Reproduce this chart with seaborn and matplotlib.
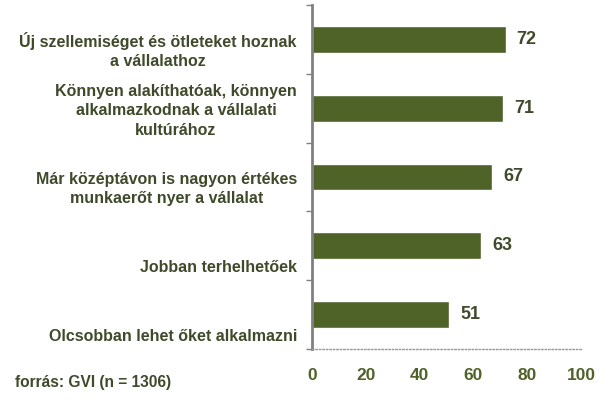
import matplotlib
matplotlib.use("Agg")
import matplotlib.pyplot as plt
import matplotlib.transforms as mtransforms
import seaborn as sns
import pandas as pd

categories = [
    "Új szellemiséget és ötleteket hoznak\na vállalathoz",
    "Könnyen alakíthatóak, könnyen\nalkalmazkodnak a vállalati\nkultúrához",
    "Már középtávon is nagyon értékes\nmunkaerőt nyer a vállalat",
    "Jobban terhelhetőek",
    "Olcsobban lehet őket alkalmazni",
]
values = [72, 71, 67, 63, 51]
xticks = [0, 20, 40, 60, 80, 100]
source = "forrás: GVI (n = 1306)"

sns.set_theme(style="white")
plt.rcParams["font.family"] = ["Liberation Sans", "DejaVu Sans"]

df = pd.DataFrame({"cat": categories, "val": values})

fig = plt.figure(figsize=(6.08, 4.13), dpi=100)
ax = fig.add_axes([0.513, 0.155, 0.4426, 0.833])

bar_color = "#4f6228"
text_color = "#3f4a2a"
sns.barplot(data=df, y="cat", x="val", orient="h", color=bar_color,
            width=0.39, saturation=1, ax=ax)

ax.set_xlim(0, 100)
ax.set_ylim(4.5, -0.5)
ax.set_xlabel("")
ax.set_ylabel("")
ax.set_xticks(xticks)
ax.set_xticklabels([str(t) for t in xticks], fontsize=12.5, fontweight="bold",
                   color="#4f6228")
ax.tick_params(axis="x", length=2, width=0.8, color="#999999", pad=12, direction="out")

# y ticks at category boundaries, no labels
ax.set_yticks([i + 0.5 for i in range(-1, len(categories))])
ax.set_yticklabels([])
ax.tick_params(axis="y", length=4, width=1, color="#808080", direction="out", left=True)

for s in ["top", "right"]:
    ax.spines[s].set_visible(False)
ax.spines["left"].set_color("#808080")
ax.spines["left"].set_linewidth(2)
ax.spines["bottom"].set_color("#999999")
ax.spines["bottom"].set_linestyle((0, (1, 1.5)))
ax.spines["bottom"].set_linewidth(1)

# category labels (bottom-anchored near slot boundaries)
trans = mtransforms.blended_transform_factory(ax.transAxes, ax.transData)
off = mtransforms.offset_copy(trans, fig=fig, x=-15, y=5, units="dots")
for i, c in enumerate(categories):
    ax.text(0, i + 0.5, c, transform=off, ha="right", va="bottom",
            multialignment="center", fontsize=11.5, fontweight="bold",
            color=text_color, linespacing=1.35)

# value labels
for i, v in enumerate(values):
    ax.annotate(str(v), xy=(v, i), xytext=(11, 0), textcoords="offset pixels",
                ha="left", va="center", fontsize=13, fontweight="bold",
                color=text_color)

fig.text(15 / 608, 1 - 383 / 413, source, ha="left", va="center",
         fontsize=11.2, fontweight="bold", color=text_color)

fig.savefig("out.png", dpi=100)
